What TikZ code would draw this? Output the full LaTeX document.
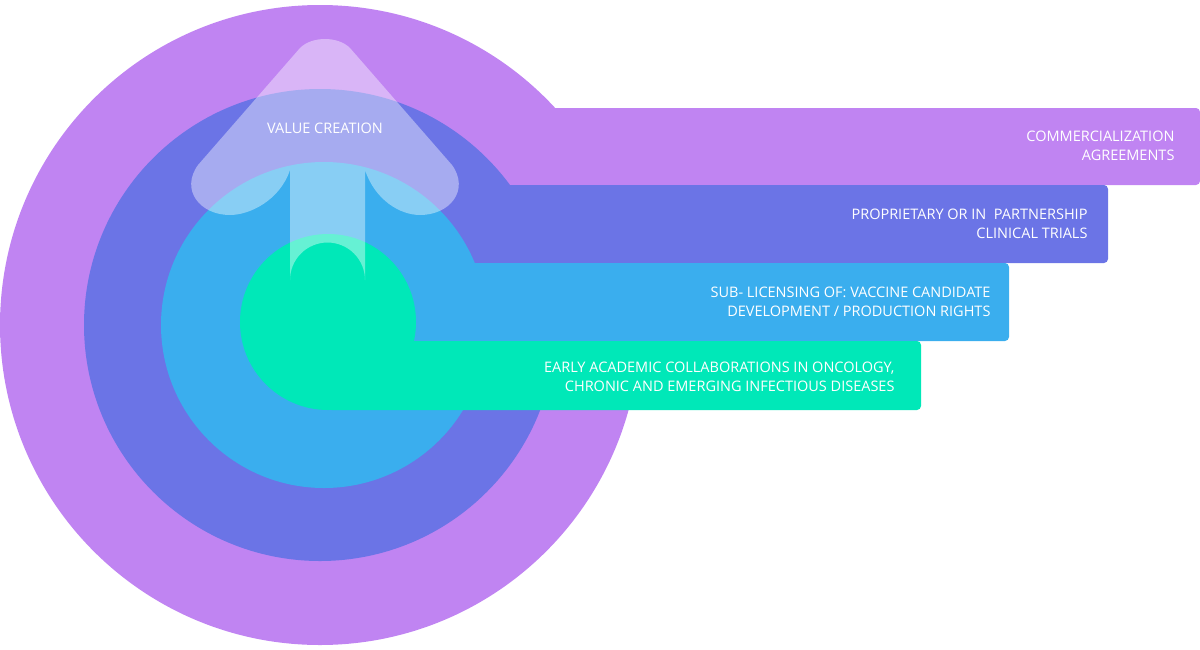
\documentclass[tikz,border=0pt]{standalone}
\usepackage{fontspec}
\setmainfont{Open Sans}
\definecolor{cpurple}{HTML}{C084F2}
\definecolor{cblue}{HTML}{6B74E6}
\definecolor{clblue}{HTML}{3AAEEE}
\definecolor{cgreen}{HTML}{00E8B8}
\begin{document}
\begin{tikzpicture}[x=1pt,y=-1pt,
  lbl/.style={text=white,font=\fontsize{14.5}{19}\selectfont,align=right,anchor=east}]
\useasboundingbox (0,0) rectangle (1200,649);
\fill[cpurple] (320,325) circle (320);
\fill[cpurple,rounded corners=4pt] (320,108) rectangle (1200,185);
\fill[cblue] (320,325) circle (236);
\fill[cblue,rounded corners=4pt] (320,185) rectangle (1108,263);
\fill[clblue] (324,325) circle (163);
\fill[clblue,rounded corners=4pt] (324,263) rectangle (1009,341);
\fill[cgreen] (328,322) circle (88);
\fill[cgreen,rounded corners=4pt] (328,341) rectangle (921,410);
\fill[white,opacity=0.4] (290,170) -- (290,280) arc(180:360:37.5) -- (365,170)
  .. controls (375,200) and (400,215) .. (420,215)
  .. controls (450,215) and (470,190) .. (452,165)
  -- (350,48) .. controls (338,36) and (312,36) .. (300,48)
  -- (198,165) .. controls (180,190) and (200,215) .. (230,215)
  .. controls (250,215) and (280,200) .. (290,170) -- cycle;
\node[text=white,font=\fontsize{14.5}{19}\selectfont] (vc) at (325,128) {VALUE CREATION};
\node[lbl] (t1) at (1178,146) {COMMERCIALIZATION\\AGREEMENTS};
\node[lbl] (t2) at (1091,224) {PROPRIETARY OR IN\ \ PARTNERSHIP\\CLINICAL TRIALS};
\node[lbl] (t3) at (994,302) {SUB- LICENSING OF: VACCINE CANDIDATE\\DEVELOPMENT / PRODUCTION RIGHTS};
\node[lbl] (t4) at (898,377) {EARLY ACADEMIC COLLABORATIONS IN ONCOLOGY,\\CHRONIC AND EMERGING INFECTIOUS DISEASES};
\end{tikzpicture}
\end{document}
